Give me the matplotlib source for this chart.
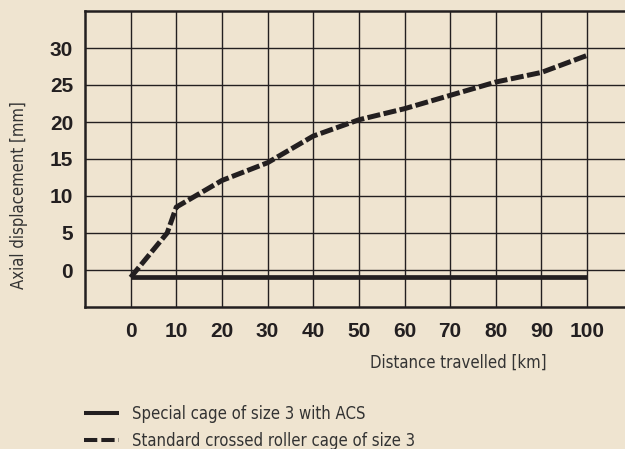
import matplotlib
matplotlib.use('Agg')
import matplotlib.pyplot as plt

# Daten aus dem Diagramm
dist_acs = [0, 100]
disp_acs = [-1.0, -1.0]

dist_std = [0, 8, 10, 20, 30, 40, 50, 60, 70, 80, 90, 100]
disp_std = [-1.0, 5.0, 8.5, 12.1, 14.5, 18.1, 20.3, 21.8, 23.6, 25.4, 26.7, 29.0]

x_ticks = [0, 10, 20, 30, 40, 50, 60, 70, 80, 90, 100]
y_ticks = [0, 5, 10, 15, 20, 25, 30]

label_acs = 'Special cage of size 3 with ACS'
label_std = 'Standard crossed roller cage of size 3'

bg = '#efe4d0'
ink = '#231f20'
txt = '#333333'
txt_font = {'family': 'DejaVu Sans', 'stretch': 'condensed', 'size': 12}

fig = plt.figure(figsize=(6.25, 4.49), dpi=100, facecolor=bg)
ax = fig.add_axes([85 / 625, 1 - 307 / 449, 1 - 85 / 625, (307 - 11) / 449])
ax.set_facecolor(bg)

l1, = ax.plot(dist_acs, disp_acs, color=ink, lw=3.4, solid_capstyle='butt', zorder=3)
l2, = ax.plot(dist_std, disp_std, color=ink, lw=3.6, linestyle=(0, (2.6, 0.7)),
              dash_capstyle='butt', zorder=3)

ax.set_xlim(-10, 108.3)
ax.set_ylim(-5, 35)
ax.set_xticks(x_ticks)
ax.set_yticks(y_ticks)
ax.grid(True, color=ink, lw=1.0)
ax.set_axisbelow(True)
ax.tick_params(length=0, labelsize=15, labelcolor=ink)
ax.tick_params(axis='y', pad=8.6)
ax.tick_params(axis='x', pad=10.5)
for lab in ax.get_xticklabels() + ax.get_yticklabels():
    lab.set_fontfamily('Liberation Sans')
    lab.set_fontweight('bold')

for side in ['top', 'bottom', 'left']:
    ax.spines[side].set_color(ink)
    ax.spines[side].set_linewidth(1.8)
ax.spines['right'].set_visible(False)

fig.text(458 / 625, 1 - 363 / 449, 'Distance travelled [km]', ha='center', va='center',
         color=txt, fontdict=txt_font)
fig.text(19 / 625, 1 - 195 / 449, 'Axial displacement [mm]', ha='center', va='center',
         rotation=90, color=txt, fontdict=txt_font)

leg = fig.legend([l1, l2], [label_acs, label_std], loc='upper left',
                 bbox_to_anchor=(72 / 625, 1 - 393 / 449), frameon=False,
                 handlelength=2.15, handletextpad=0.75, labelspacing=0.55,
                 borderpad=0.2, prop=txt_font)
for t in leg.get_texts():
    t.set_color(txt)
for ln in leg.get_lines():
    ln.set_linewidth(2.9)
leg.get_lines()[1].set_linestyle((0, (3.3, 1.0)))

fig.savefig('out.png', dpi=100, facecolor=bg)
